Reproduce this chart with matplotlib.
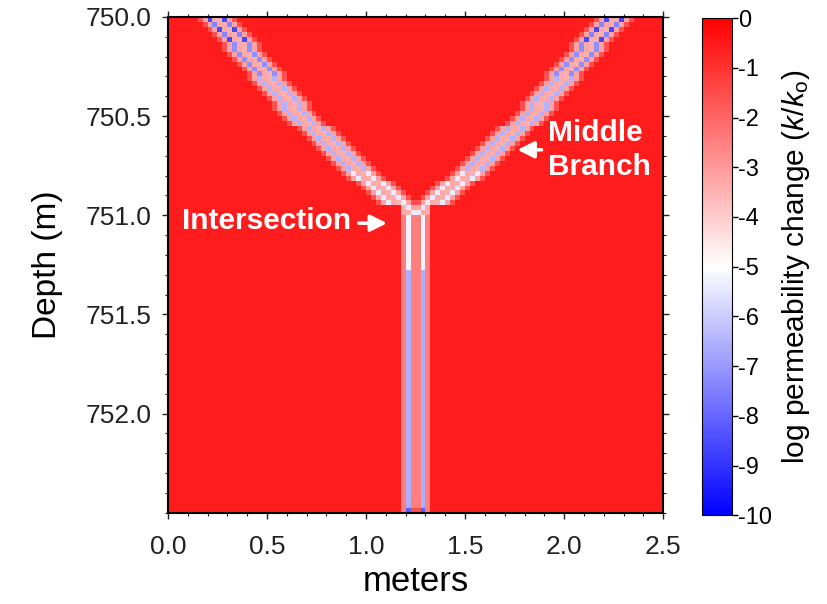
import numpy as np
import matplotlib
matplotlib.use('Agg')
import matplotlib.pyplot as plt
from matplotlib.ticker import MultipleLocator

plt.rcParams['font.family'] = ['Liberation Sans', 'DejaVu Sans']
plt.rcParams['mathtext.fontset'] = 'custom'
plt.rcParams['mathtext.rm'] = 'Liberation Sans'
plt.rcParams['mathtext.it'] = 'Liberation Sans:italic'
plt.rcParams['axes.unicode_minus'] = False

# grid (metres)
cell = 0.025
x_max = 2.5
z_top = 750.0
z_bot = 752.5
background = -0.55

# branch centre lines (depth, x)
left_depth = [750.0, 750.49, 750.82, 751.05]
left_x = [0.25, 0.66, 1.02, 1.27]
right_depth = [750.0, 750.49, 750.82, 751.05]
right_x = [2.25, 1.84, 1.48, 1.23]
junction_depth = 751.0
clip_depth = 750.95

# horizontal cross-section of a branch (None = stripe cell)
branch_profile = [-1.6, -3.2, None, -3.3, -3.4, None, -3.2, -1.6]
# stripe value along branches, step per depth band
branch_band_depth = [750.12, 750.3, 750.78, 751.1]
branch_band_val = [-8.6, -7.2, -6.5, -5.4]

# stem
stem_x0 = 1.175
stem_profile = [-2.5, None, -2.5, -2.5, None, -2.5]
stem_band_depth = [751.28, 752.475, 752.5]
stem_band_val = [-5.2, -6.6, -8.2]
stem_bottom_centre = -1.6

nx = int(round(x_max / cell))
nz = int(round((z_bot - z_top) / cell))
field = np.full((nz, nx), background)
s0 = int(round(stem_x0 / cell))
s1 = s0 + len(stem_profile) - 1


def band_value(z, depths, vals):
    for d, v in zip(depths, vals):
        if z < d:
            return v
    return vals[-1]


for i in range(nz):
    z = z_top + (i + 0.5) * cell
    if z < junction_depth:
        sv = band_value(z, branch_band_depth, branch_band_val)
        if z < 750.12 and i % 2 == 1:
            sv = -7.4
        for dep, xs in [(left_depth, left_x), (right_depth, right_x)]:
            c = np.interp(z, dep, xs) / cell
            j0 = int(round(c))
            for k, p in enumerate(branch_profile):
                j = j0 - 4 + k
                if not 0 <= j < nx:
                    continue
                if z > clip_depth and not s0 <= j <= s1:
                    continue
                v = sv if p is None else p
                field[i, j] = min(field[i, j], v)
    else:
        sv = band_value(z, stem_band_depth, stem_band_val)
        for k, p in enumerate(stem_profile):
            v = sv if p is None else p
            if i == nz - 1 and p is not None and k in (2, 3):
                v = stem_bottom_centre
            field[i, s0 + k] = v

xe = np.linspace(0, x_max, nx + 1)
ze = np.linspace(z_top, z_bot, nz + 1)

fig = plt.figure(figsize=(8.27, 6.04), dpi=100)
ax = fig.add_axes([0.203, 0.151, 0.599, 0.821])
cax = fig.add_axes([0.849, 0.147, 0.036, 0.823])

mesh = ax.pcolormesh(xe, ze, field, cmap='bwr', vmin=-10, vmax=0, shading='flat')
ax.set_xlim(0, x_max)
ax.set_ylim(z_bot, z_top)

ax.xaxis.set_major_locator(MultipleLocator(0.5))
ax.xaxis.set_minor_locator(MultipleLocator(0.1))
ax.set_yticks([750.0, 750.5, 751.0, 751.5, 752.0])
ax.yaxis.set_minor_locator(MultipleLocator(0.1))
ax.xaxis.set_major_formatter(plt.FormatStrFormatter('%.1f'))
ax.yaxis.set_major_formatter(plt.FormatStrFormatter('%.1f'))
ax.tick_params(which='both', direction='out', top=True, right=True, labelsize=19,
               colors='#222222', pad=8)
ax.tick_params(axis='x', pad=12)
ax.tick_params(which='major', length=4, width=1)
ax.tick_params(which='minor', length=2.5, width=0.8)
for s in ax.spines.values():
    s.set_linewidth(1.5)

ax.set_xlabel('meters', fontsize=25, labelpad=4)
ax.set_ylabel('Depth (m)', fontsize=24, labelpad=16)

ax.annotate('', xy=(1.12, 751.04), xytext=(0.95, 751.04),
            arrowprops=dict(arrowstyle='-|>', color='white', lw=2.5, mutation_scale=25))
ax.text(0.925, 751.03, 'Intersection', color='white', fontsize=21.5, fontweight='bold',
        ha='right', va='center')
ax.annotate('', xy=(1.75, 750.67), xytext=(1.90, 750.67),
            arrowprops=dict(arrowstyle='-|>', color='white', lw=2.5, mutation_scale=25))
ax.text(1.92, 750.67, 'Middle\nBranch', color='white', fontsize=21.5, fontweight='bold',
        ha='left', va='center', linespacing=1.3)

cb = fig.colorbar(mesh, cax=cax, ticks=np.arange(-10, 1, 1))
cb.ax.set_yticklabels([str(t) for t in range(-10, 1)])
cb.ax.tick_params(labelsize=17, length=4, width=1, direction='out', pad=0.5)
cb.outline.set_linewidth(0.8)
cb.set_label(r'log permeability change ($k/k_\mathrm{o}$)', fontsize=21.5, labelpad=6)

fig.savefig('out.png', dpi=100)
